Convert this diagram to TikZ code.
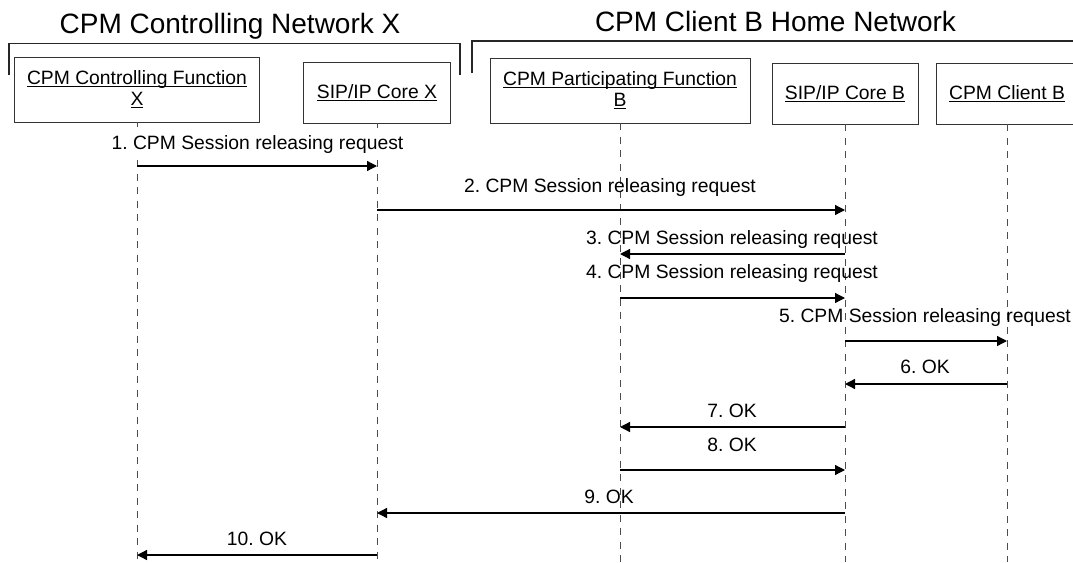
\documentclass[tikz,border=0pt]{standalone}
\usepackage{fontspec}
\setmainfont{Liberation Sans}
\usetikzlibrary{arrows.meta}
\frenchspacing
\newcommand\myul[1]{{\setbox0\hbox{#1}\rlap{\rule[-2.8pt]{\wd0}{0.9pt}}\box0}}
\begin{document}
\begin{tikzpicture}[x=1pt,y=-1pt,
  box/.style={draw=black!80, line width=0.9pt, fill=white, align=center, inner sep=0pt, font=\fontsize{19.3}{21}\selectfont},
  title/.style={anchor=base, inner sep=0pt, font=\fontsize{28}{30}\selectfont},
  lbl/.style={anchor=base, inner sep=0pt, font=\fontsize{19.3}{21}\selectfont},
  life/.style={draw=black!70, line width=0.9pt, dash pattern=on 7pt off 6.5pt},
  tick/.style={draw=black!70, line width=0.9pt},
  msg/.style={draw=black, line width=1.3pt, -{Triangle[length=10pt,width=10pt]}},
  bracket/.style={draw=black!85, line width=1.6pt}]
\useasboundingbox (0,0) rectangle (1073,562);

% titles
\node[title] (t1) at (230,33.5) {CPM Controlling Network X};
\node[title] (t2) at (775.5,31.5) {CPM Client B Home Network};

% brackets
\draw[bracket] (9,75) -- (9,43.5) -- (460,43.5) -- (460,75);
\draw[bracket] (472,73) -- (472,41) -- (1080,41);

% boxes
\node[box, minimum width=245pt, minimum height=65pt] (cf) at (137,89.5) {\myul{CPM Controlling Function}\\\myul{X}};
\node[box, minimum width=147pt, minimum height=61pt] (sx) at (377,92.5) {\myul{SIP/IP Core X}};
\node[box, minimum width=260pt, minimum height=65pt] (pf) at (620,90.5) {\myul{CPM Participating Function}\\\myul{B}};
\node[box, minimum width=146pt, minimum height=61pt] (sb) at (845,93.5) {\myul{SIP/IP Core B}};
\node[box, minimum width=142pt, minimum height=61pt] (cb) at (1007,93.5) {\myul{CPM Client B}};

% lifelines
\draw[tick] (cf.south) -- ++(0,5);
\draw[tick] (sx.south) -- ++(0,5);
\draw[life] (cf |- 0,160) -- (cf |- 0,562);
\draw[life] (sx |- 0,160) -- (sx |- 0,562);
\draw[life] (pf.south) -- (pf |- 0,562);
\draw[life] (sb.south) -- (sb |- 0,562);
\draw[life] (cb.south) -- (cb |- 0,562);

% messages
\node[lbl] (m1) at (257.5,149) {1. CPM Session releasing request};
\draw[msg] (cf |- 0,166) -- (sx |- 0,166);
\node[lbl] (m2) at (610,192) {2. CPM Session releasing request};
\draw[msg] (sx |- 0,210) -- (sb |- 0,210);
\node[lbl] (m3) at (732,244) {3. CPM Session releasing request};
\draw[msg] (sb |- 0,254) -- (pf |- 0,254);
\node[lbl] (m4) at (732,278) {4. CPM Session releasing request};
\draw[msg] (pf |- 0,298) -- (sb |- 0,298);
\node[lbl] (m5) at (925,322.5) {5. CPM Session releasing request};
\draw[msg] (sb |- 0,341) -- (cb |- 0,341);
\node[lbl] (m6) at (925,373) {6. OK};
\draw[msg] (cb |- 0,384) -- (sb |- 0,384);
\node[lbl] (m7) at (732,417) {7. OK};
\draw[msg] (sb |- 0,427) -- (pf |- 0,427);
\node[lbl] (m8) at (732,451) {8. OK};
\draw[msg] (pf |- 0,470) -- (sb |- 0,470);
\node[lbl] (m9) at (609,503) {9. OK};
\draw[msg] (sb |- 0,513) -- (sx |- 0,513);
\node[lbl] (m10) at (257,545) {10. OK};
\draw[msg] (sx |- 0,555) -- (cf |- 0,555);
\end{tikzpicture}
\end{document}
